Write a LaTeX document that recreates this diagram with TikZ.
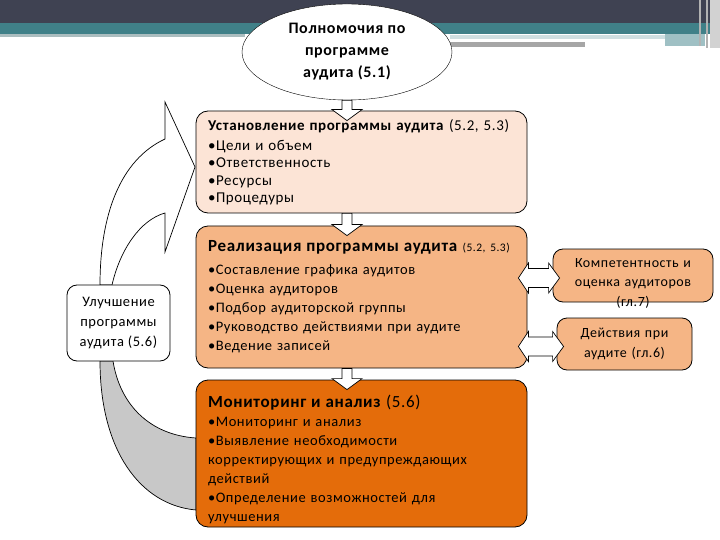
\documentclass[tikz,border=0pt]{standalone}
\usepackage{fontspec}
\setmainfont{Carlito}[LetterSpace=4]
\usetikzlibrary{shapes.geometric,calc}

\definecolor{headdark}{HTML}{3F4252}
\definecolor{headteal}{HTML}{408088}
\definecolor{peach}{HTML}{FCE4D6}
\definecolor{lightorange}{HTML}{F5B585}
\definecolor{darkorange}{HTML}{E46C0A}
\definecolor{arrowgray}{HTML}{C8C8C8}

% block arrow going down from #1 onto #2 (on the axis of the ellipse)
\newcommand{\blockdown}[2]{%
  \draw[blockarr] let \p1=(auth.south), \p2=(#1.south), \p3=(#2.north) in
    (\x1-5pt,\y2) -- (\x1-5pt,\y3+1pt) -- (\x1-15pt,\y3+1pt) -- (\x1,\y3-10pt)
    -- (\x1+15pt,\y3+1pt) -- (\x1+5pt,\y3+1pt) -- (\x1+5pt,\y2) -- cycle;}

% block arrow with two heads between #1 and #2
\newcommand{\sidearrow}[2]{%
  \draw[blockarr] let \p1=(#1.east), \p2=(#2.west), \p3=($(#2.west)+(0,2.5)$) in
    (\x1-9pt,\y3) -- (\x1+1pt,\y3+15pt) -- (\x1+1pt,\y3+9.5pt) -- (\x2-4pt,\y3+9.5pt)
    -- (\x2-4pt,\y3+15pt) -- (\x2+7pt,\y3) -- (\x2-4pt,\y3-15pt) -- (\x2-4pt,\y3-9.5pt)
    -- (\x1+1pt,\y3-9.5pt) -- (\x1+1pt,\y3-15pt) -- cycle;}

\begin{document}
\begin{tikzpicture}[x=1pt, y=-1pt,
    stagebox/.style={draw, line width=0.8pt, rounded corners=12pt, minimum width=331pt,
      text width=307pt, inner xsep=12pt, inner ysep=3pt, align=left},
    sidebox/.style={draw, line width=0.8pt, rounded corners=10pt, fill=lightorange,
      inner sep=0pt, align=center, font=\fontsize{14}{19.5}\selectfont},
    blockarr/.style={draw, fill=white, line width=0.7pt, line join=miter}]
    \useasboundingbox (0,0) rectangle (720,540);

    % Header
    \fill[headdark] (0,0) rectangle (720,23);
    \fill[headteal] (0,23) rectangle (720,34);
    \fill[black!30!headteal!40] (0,34) rectangle (245,37);
    \fill[headteal!25] (450,35) rectangle (665,39);
    \fill[headteal!50] (665,34) rectangle (705,46);
    \fill[black!35!white] (440,42) rectangle (585,47);
    \fill[gray!35] (710,0) rectangle (720,48);
    \draw[gray!60, line width=1.2pt] (700,0) -- (700,46);
    \draw[gray!60, line width=1.2pt] (707,0) -- (707,48);

    % Curved arrows on the left
    \draw[blockarr] (100,285) .. controls (100,215) and (120,160) .. (165,139)
        -- (165,102) -- (195,167) -- (165,252) -- (165,213)
        .. controls (140,220) and (120,250) .. (112,285) -- cycle;
    \draw[fill=arrowgray, line width=0.7pt] (100,361) .. controls (100,450) and (140,505) .. (196,510)
        -- (196,438) .. controls (150,435) and (120,405) .. (113,361) -- cycle;

    % Ellipse
    \node[ellipse, draw, fill=white, minimum width=210pt, minimum height=96pt, inner sep=0pt,
        align=center, font=\bfseries\fontsize{16}{22}\selectfont] (auth) at (347,52)
        {Полномочия по\\программе\\аудита (5.1)};

    % Stages
    \node[stagebox, fill=peach, minimum height=102pt, font=\fontsize{15}{17.3}\selectfont]
        (setup) at (361.5,162)
        {\textbf{Установление программы аудита} (5.2, 5.3)\\[3pt]
         •Цели и объем\\•Ответственность\\•Ресурсы\\•Процедуры};
    \node[stagebox, fill=lightorange, minimum height=142pt, font=\fontsize{14.5}{19}\selectfont]
        (impl) at (361.5,297)
        {\mbox{{\fontsize{17}{19}\selectfont\textbf{Реализация программы аудита}}
         {\fontsize{11.5}{19}\selectfont(5.2, 5.3)}}\\[4pt]
         •Составление графика аудитов\\•Оценка аудиторов\\•Подбор аудиторской группы\\
         •Руководство действиями при аудите\\•Ведение записей};
    \node[stagebox, fill=darkorange, minimum height=147pt, text depth=105pt,
        font=\fontsize{14.5}{19}\selectfont] (monit) at (361.5,453.5)
        {{\fontsize{17}{19}\selectfont\textbf{Мониторинг и анализ} (5.6)}\\
         •Мониторинг и анализ\\•Выявление необходимости\\корректирующих и предупреждающих\\
         действий\\•Определение возможностей для\\улучшения};

    % Improvement
    \node[draw, fill=white, line width=0.8pt, rounded corners=10pt, minimum width=103pt,
        minimum height=76pt, inner sep=0pt, align=center, font=\fontsize{14.5}{20}\selectfont]
        (impr) at (118.5,323) {Улучшение\\программы\\аудита (5.6)};

    % Side boxes
    \node[sidebox, minimum width=160pt, text width=160pt, minimum height=53pt, text depth=25pt]
        (comp) at (633,275.5) {Компетентность и\\оценка аудиторов\\(гл.7)};
    \node[sidebox, minimum width=135pt, text width=135pt, minimum height=52pt]
        (act) at (624.5,344) {Действия при\\аудите (гл.6)};

    % Block arrows
    \blockdown{auth}{setup}
    \blockdown{setup}{impl}
    \blockdown{impl}{monit}
    \sidearrow{impl}{comp}
    \sidearrow{impl}{act}
\end{tikzpicture}
\end{document}
